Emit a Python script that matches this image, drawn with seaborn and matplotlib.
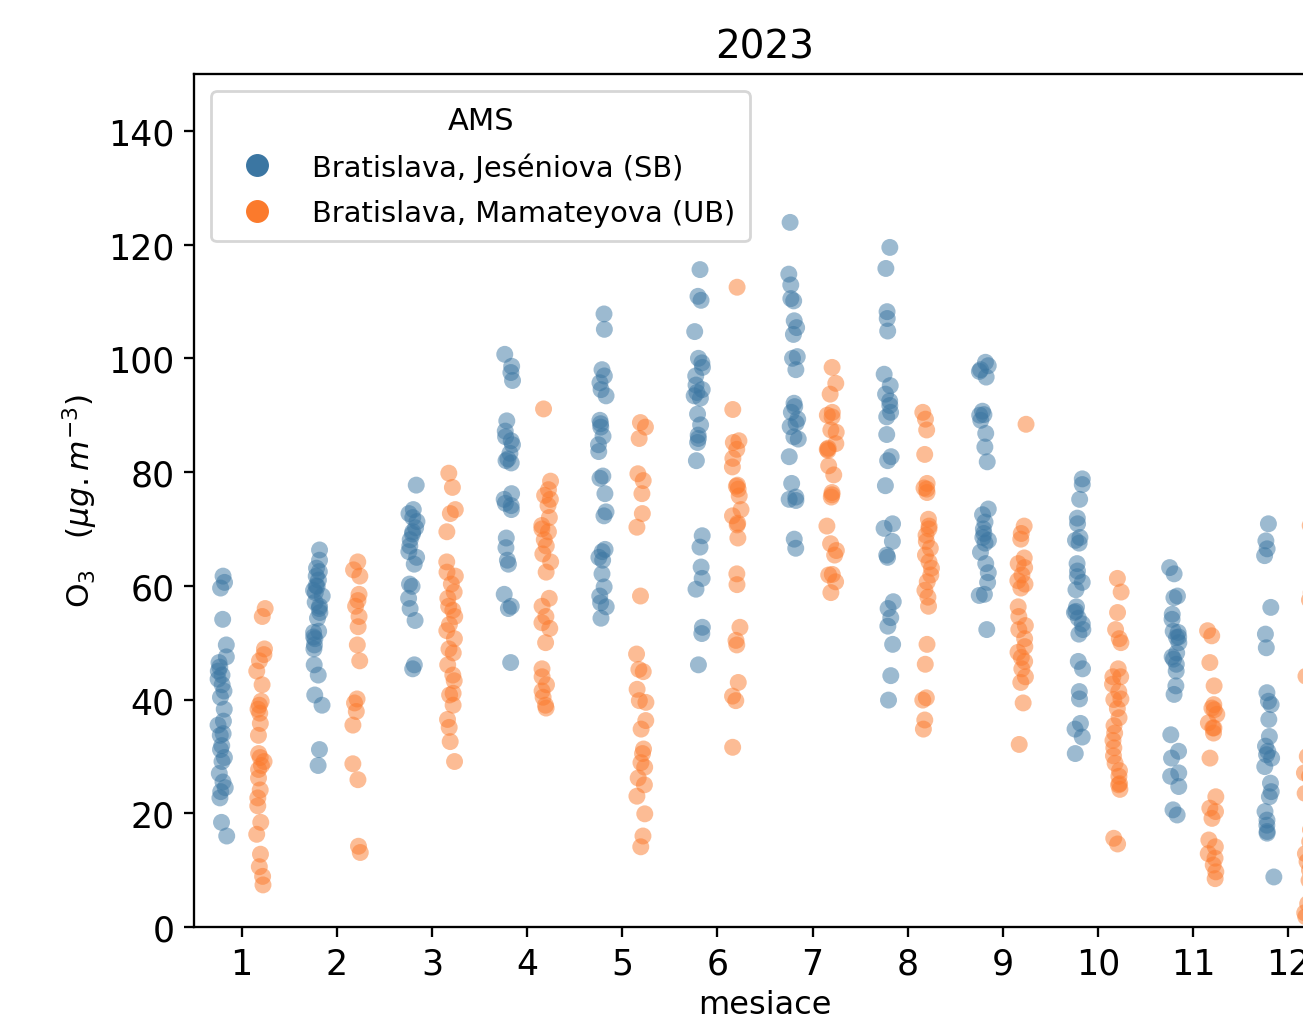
import numpy as np
import pandas as pd
import seaborn as sns
import matplotlib.pyplot as plt
from matplotlib.lines import Line2D

# Stations (AMS) and their colours
stations = ['Bratislava, Jeséniova (SB)', 'Bratislava, Mamateyova (UB)']
colors = ['#3b76a2', '#fb7a2c']

# Daily O3 values per month, Bratislava, Jeséniova (SB)
jes_1 = [61.7, 60.6, 59.6, 54.1, 49.6, 47.5, 46.5, 45.7, 45.0, 44.3, 43.6, 42.6, 41.5, 40.4, 38.3,
         36.2, 35.5, 34.0, 33.7, 31.9, 31.2, 29.8, 29.1, 27.0, 25.5, 24.5, 23.8, 22.7, 18.4, 16.0]
jes_2 = [66.3, 64.5, 63.1, 62.5, 61.7, 61.0, 60.0, 59.9, 59.2, 58.8, 58.2, 57.1, 56.4, 56.0, 55.3,
         54.3, 52.0, 51.8, 51.0, 50.7, 49.6, 48.9, 46.1, 44.3, 40.8, 39.0, 31.2, 28.4]
jes_3 = [77.7, 73.4, 72.7, 72.0, 71.3, 70.2, 69.5, 69.1, 68.1, 67.0, 66.0, 65.0, 63.8, 60.3, 59.9,
         57.8, 56.0, 53.9, 46.1, 45.4]
jes_4 = [100.7, 98.6, 97.5, 96.1, 89.0, 87.2, 86.2, 85.5, 84.8, 83.3, 82.3, 82.0, 81.6, 76.2, 75.2,
         74.5, 74.1, 73.4, 68.4, 66.7, 64.5, 63.8, 58.5, 56.4, 56.0, 46.5]
jes_5 = [107.8, 105.1, 98.0, 96.9, 95.7, 94.5, 93.4, 89.1, 88.5, 87.9, 86.3, 84.8, 83.6, 79.3, 78.9,
         76.2, 73.0, 72.3, 66.4, 66.0, 65.0, 64.5, 62.1, 59.8, 58.2, 57.0, 56.3, 54.3]
jes_6 = [115.6, 110.9, 110.2, 104.7, 100.0, 99.2, 98.4, 96.9, 95.3, 94.5, 94.0, 93.4, 93.0, 90.2, 88.3,
         86.5, 85.9, 85.2, 82.0, 68.8, 66.8, 63.3, 61.3, 59.4, 52.7, 51.6, 46.1]
jes_7 = [123.9, 114.8, 112.9, 110.5, 110.1, 106.6, 105.4, 104.2, 100.3, 100.0, 98.0, 92.1, 91.5, 90.5,
         89.3, 88.6, 88.0, 86.2, 85.8, 82.7, 78.0, 75.6, 75.2, 75.0, 68.2, 66.6]
jes_8 = [119.5, 115.8, 108.2, 107.0, 104.8, 97.2, 95.2, 93.7, 92.5, 91.7, 90.5, 89.7, 86.6, 82.7, 82.0,
         77.6, 70.9, 70.1, 67.8, 65.4, 65.0, 57.2, 56.0, 54.4, 52.9, 49.7, 44.2, 39.9]
jes_9 = [99.3, 98.7, 98.0, 97.7, 96.7, 90.7, 90.1, 90.0, 89.1, 86.8, 84.4, 81.8, 73.5, 72.5, 71.2,
         70.0, 69.2, 68.5, 68.0, 67.5, 65.9, 63.9, 62.3, 60.6, 58.5, 58.3, 52.3]
jes_10 = [78.8, 77.8, 75.2, 71.9, 70.9, 68.5, 68.0, 67.5, 63.9, 62.6, 61.6, 60.6, 59.3, 56.3, 55.5,
          55.3, 54.3, 53.3, 52.3, 51.5, 46.7, 45.4, 41.4, 40.1, 35.8, 34.8, 33.4, 30.5]
jes_11 = [63.2, 62.1, 58.2, 57.9, 55.0, 54.1, 52.0, 51.8, 51.0, 50.9, 50.0, 48.2, 47.5, 47.1, 46.2,
          45.0, 42.4, 40.9, 33.8, 30.9, 29.7, 27.1, 26.5, 24.7, 20.6, 19.7]
jes_12 = [70.9, 67.9, 66.5, 65.3, 56.2, 51.5, 49.1, 41.2, 39.7, 39.1, 36.5, 33.5, 31.8, 30.9, 30.3,
          29.7, 28.2, 25.3, 23.8, 22.9, 20.3, 18.8, 17.9, 16.8, 16.5, 8.8]

# Daily O3 values per month, Bratislava, Mamateyova (UB)
mam_1 = [56.0, 54.6, 48.9, 47.9, 46.8, 45.0, 42.6, 39.7, 39.0, 38.3, 37.6, 35.8, 33.7, 30.5, 29.8,
         29.1, 28.4, 27.7, 26.2, 24.1, 22.7, 21.3, 18.4, 16.3, 12.8, 10.6, 8.9, 7.4]
mam_2 = [64.2, 62.8, 61.7, 58.5, 57.4, 56.4, 54.6, 52.8, 49.6, 46.8, 40.1, 39.4, 37.9, 35.5, 28.7,
         25.9, 14.2, 13.1]
mam_3 = [79.8, 77.3, 73.4, 72.7, 69.5, 64.2, 62.4, 61.7, 60.3, 58.9, 57.8, 56.4, 55.7, 54.6, 53.2,
         52.1, 50.7, 48.9, 48.2, 46.1, 44.3, 43.3, 41.1, 40.8, 39.0, 36.5, 35.1, 32.6, 29.1]
mam_4 = [91.1, 78.4, 76.9, 75.9, 75.2, 74.1, 72.0, 70.6, 70.0, 69.5, 68.1, 67.0, 65.6, 64.2, 62.4,
         57.8, 56.4, 54.6, 53.5, 52.5, 50.0, 45.4, 44.0, 42.6, 41.5, 40.4, 39.0, 38.5]
mam_5 = [88.7, 87.9, 85.9, 79.7, 78.5, 76.2, 72.7, 70.3, 58.2, 48.0, 45.3, 44.9, 41.8, 39.8, 39.5,
         36.3, 34.8, 31.3, 30.5, 28.9, 28.1, 26.2, 25.0, 23.0, 19.9, 16.0, 14.1]
mam_6 = [112.5, 91.0, 85.5, 85.2, 84.0, 82.4, 80.9, 77.7, 77.5, 77.0, 75.8, 73.4, 72.3, 71.0, 70.7,
         68.4, 62.1, 60.2, 52.7, 50.4, 49.6, 43.0, 40.6, 39.8, 31.6]
mam_7 = [98.4, 95.6, 93.7, 90.5, 90.0, 89.7, 87.4, 87.0, 85.0, 84.2, 84.0, 83.8, 81.1, 79.5, 76.4,
         76.0, 75.6, 70.5, 67.4, 66.2, 65.4, 62.0, 61.9, 60.7, 58.8]
mam_8 = [90.5, 89.3, 87.4, 83.1, 78.0, 77.2, 77.0, 76.4, 71.7, 70.5, 70.0, 68.9, 67.8, 66.6, 65.4,
         64.2, 63.1, 61.9, 60.7, 59.2, 58.0, 56.4, 49.7, 46.2, 40.3, 39.9, 36.4, 34.8]
mam_9 = [88.4, 70.5, 69.2, 68.2, 64.9, 63.9, 63.2, 61.9, 60.9, 60.3, 59.6, 56.3, 54.6, 53.0, 52.3,
         50.7, 49.3, 48.3, 47.4, 46.7, 45.4, 44.0, 43.0, 39.4, 32.1]
mam_10 = [61.3, 58.9, 55.3, 52.3, 50.7, 50.0, 45.4, 44.0, 44.0, 42.7, 41.4, 40.1, 40.0, 38.4, 36.8,
          35.4, 34.1, 32.8, 31.5, 30.1, 28.8, 27.5, 26.5, 25.2, 25.0, 24.2, 15.6, 14.6]
mam_11 = [52.1, 51.2, 46.5, 42.4, 39.1, 38.5, 38.2, 37.4, 35.9, 35.0, 35.0, 34.1, 29.7, 22.9, 20.9,
          20.3, 19.1, 15.3, 14.1, 12.9, 12.1, 10.9, 9.7, 8.5]
mam_12 = [70.6, 58.8, 57.5, 44.1, 43.0, 30.0, 27.1, 26.5, 23.5, 17.1, 15.0, 12.9, 11.5, 10.0, 8.2,
          4.1, 2.5, 1.8]

jes = [jes_1, jes_2, jes_3, jes_4, jes_5, jes_6, jes_7, jes_8, jes_9, jes_10, jes_11, jes_12]
mam = [mam_1, mam_2, mam_3, mam_4, mam_5, mam_6, mam_7, mam_8, mam_9, mam_10, mam_11, mam_12]

# Long format table for seaborn
rows = []
for station, series in zip(stations, [jes, mam]):
    for month, vals in enumerate(series, start=1):
        for v in vals:
            rows.append((month, v, station))
df = pd.DataFrame(rows, columns=['mesiac', 'O3', 'AMS'])

np.random.seed(3)

fig = plt.figure(figsize=(13.03, 10.20), dpi=100)
ax = fig.add_axes([0.1489, 0.0902, 0.8764, 0.8363])

sns.stripplot(data=df, x='mesiac', y='O3', hue='AMS', hue_order=stations,
              palette=colors, dodge=True, alpha=0.5, size=12.2, linewidth=0, ax=ax)

ax.set_ylim(0, 150)
ax.set_yticks(range(0, 141, 20))
ax.tick_params(labelsize=25, length=7.2, width=1.66, pad=7)
for s in ax.spines.values():
    s.set_linewidth(1.66)

ax.set_title('2023', fontsize=28, pad=12)
ax.set_xlabel('mesiace', fontsize=23, labelpad=6)
ax.set_ylabel(r'O$_3$   $(\mu g.m^{-3})$', fontsize=22.5, labelpad=6)

# Legend with opaque markers
handles = [Line2D([], [], marker='o', linestyle='', color=c, markersize=15.5) for c in colors]
leg = ax.legend(handles, stations, title='AMS', loc='upper left', fontsize=20.8,
                title_fontsize=22, borderaxespad=0.6, borderpad=0.5, labelspacing=0.6,
                handlelength=2.15, handletextpad=0.85)
leg.get_frame().set_linewidth(2.0)

fig.savefig('out.png', dpi=100)
